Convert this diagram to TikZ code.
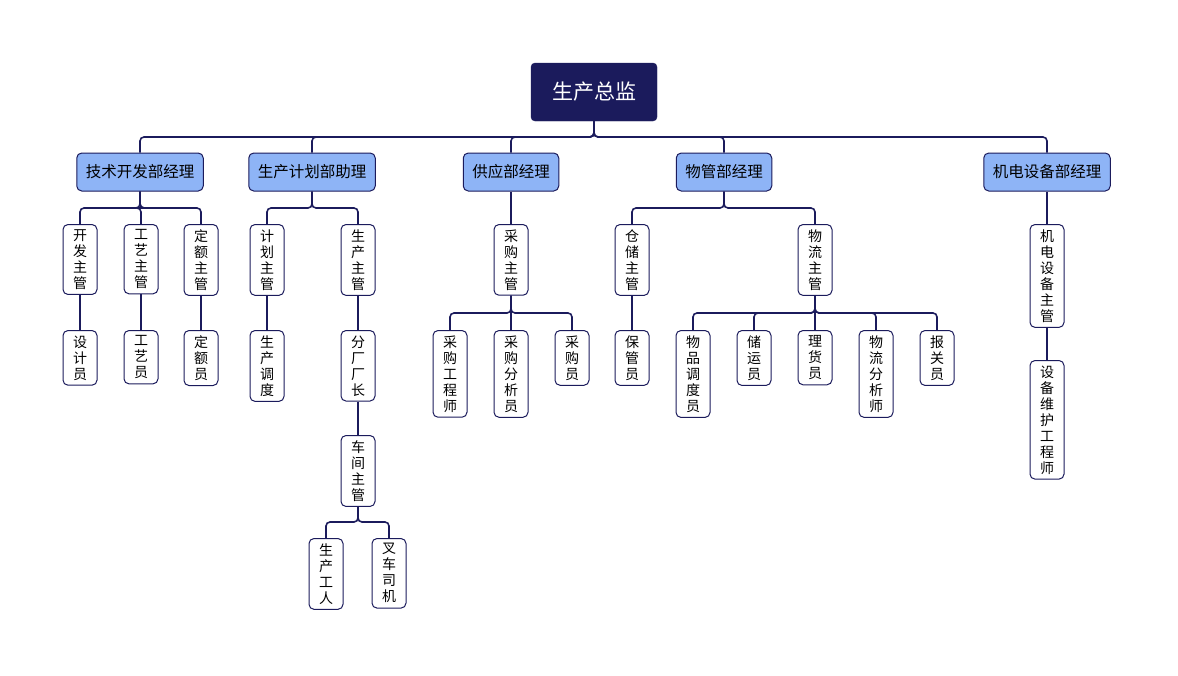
\documentclass[tikz,border=0pt]{standalone}
\usepackage{fontspec}
\setmainfont{Noto Sans CJK SC}
\begin{document}
\begin{tikzpicture}[x=1pt,y=-1pt,
  ln/.style={draw=navy,line width=1.6pt,rounded corners=4pt},
  root/.style={draw=navy,fill=navy,text=white,rounded corners=4pt,minimum width=126pt,minimum height=58pt,font=\fontsize{21}{24}\selectfont},
  l1/.style={draw=navy,fill=lblue,rounded corners=5pt,line width=1pt,minimum height=38pt,inner xsep=9pt,font=\fontsize{15.5}{17}\selectfont},
  lf/.style={draw=navy,fill=white,rounded corners=5pt,line width=1pt,minimum width=34pt,text width=14pt,align=center,inner ysep=5pt,font=\fontsize{14}{16}\selectfont}]
\definecolor{navy}{HTML}{1B1B5C}
\definecolor{lblue}{HTML}{8EB4F6}
\useasboundingbox (0,0) rectangle (1178,675);
\node[root] (R) at (594,92) {生产总监};
\node[l1] (A) at (140,172) {技术开发部经理};
\node[l1] (B) at (312,172) {生产计划部助理};
\node[l1] (C) at (511,172) {供应部经理};
\node[l1] (D) at (724,172) {物管部经理};
\node[l1] (E) at (1047,172) {机电设备部经理};
\foreach \n in {A,B,C,D,E}{\draw[ln] (R.south) -- (R.south|-0,137) -| (\n.north);}
% A
\node[lf,anchor=north] (A1) at (80,224) {开\\发\\主\\管};
\node[lf,anchor=north] (A2) at (141,224) {工\\艺\\主\\管};
\node[lf,anchor=north] (A3) at (201,224) {定\\额\\主\\管};
\node[lf,anchor=north] (A1a) at (80,330) {设\\计\\员};
\node[lf,anchor=north] (A2a) at (141,330) {工\\艺\\员};
\node[lf,anchor=north] (A3a) at (201,330) {定\\额\\员};
\foreach \n in {A1,A2,A3}{\draw[ln] (A.south) -- (A.south|-0,208) -| (\n.north); \draw[ln] (\n.south) -- (\n a.north);}
% B
\node[lf,anchor=north] (B1) at (267,224) {计\\划\\主\\管};
\node[lf,anchor=north] (B2) at (358,224) {生\\产\\主\\管};
\node[lf,anchor=north] (B1a) at (267,330) {生\\产\\调\\度};
\node[lf,anchor=north] (B2a) at (358,330) {分\\厂\\厂\\长};
\node[lf,anchor=north] (B2b) at (358,435) {车\\间\\主\\管};
\node[lf,anchor=north] (B3) at (326,538) {生\\产\\工\\人};
\node[lf,anchor=north] (B4) at (389,538) {叉\\车\\司\\机};
\foreach \n in {B1,B2}{\draw[ln] (B.south) -- (B.south|-0,208) -| (\n.north); \draw[ln] (\n.south) -- (\n a.north);}
\draw[ln] (B2a.south) -- (B2b.north);
\foreach \n in {B3,B4}{\draw[ln] (B2b.south) -- (B2b.south|-0,522) -| (\n.north);}
% C
\node[lf,anchor=north] (C1) at (511,224) {采\\购\\主\\管};
\node[lf,anchor=north] (C2) at (450,330) {采\\购\\工\\程\\师};
\node[lf,anchor=north] (C3) at (511,330) {采\\购\\分\\析\\员};
\node[lf,anchor=north] (C4) at (572,330) {采\\购\\员};
\draw[ln] (C.south) -- (C1.north);
\foreach \n in {C2,C3,C4}{\draw[ln] (C1.south) -- (C1.south|-0,313) -| (\n.north);}
% D
\node[lf,anchor=north] (D1) at (632,224) {仓\\储\\主\\管};
\node[lf,anchor=north] (D2) at (815,224) {物\\流\\主\\管};
\node[lf,anchor=north] (D1a) at (632,330) {保\\管\\员};
\node[lf,anchor=north] (D3) at (693,330) {物\\品\\调\\度\\员};
\node[lf,anchor=north] (D4) at (754,330) {储\\运\\员};
\node[lf,anchor=north] (D5) at (815,330) {理\\货\\员};
\node[lf,anchor=north] (D6) at (876,330) {物\\流\\分\\析\\师};
\node[lf,anchor=north] (D7) at (937,330) {报\\关\\员};
\foreach \n in {D1,D2}{\draw[ln] (D.south) -- (D.south|-0,208) -| (\n.north);}
\draw[ln] (D1.south) -- (D1a.north);
\foreach \n in {D3,D4,D5,D6,D7}{\draw[ln] (D2.south) -- (D2.south|-0,313) -| (\n.north);}
% E
\node[lf,anchor=north] (E1) at (1047,224) {机\\电\\设\\备\\主\\管};
\node[lf,anchor=north] (E2) at (1047,360) {设\\备\\维\\护\\工\\程\\师};
\draw[ln] (E.south) -- (E1.north);
\draw[ln] (E1.south) -- (E2.north);
\end{tikzpicture}
\end{document}
